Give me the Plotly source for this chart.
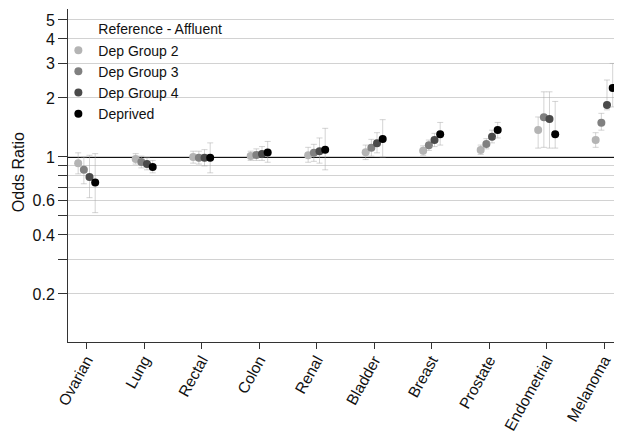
import plotly.graph_objects as go

categories = ["Ovarian", "Lung", "Rectal", "Colon", "Renal", "Bladder",
              "Breast", "Prostate", "Endometrial", "Melanoma"]

series_names = ["Dep Group 2", "Dep Group 3", "Dep Group 4", "Deprived"]

or_dep2 = [0.93, 0.977, 1.00, 1.013, 1.02, 1.057, 1.077, 1.086, 1.373, 1.221]
or_dep3 = [0.86, 0.943, 0.99, 1.025, 1.05, 1.116, 1.147, 1.165, 1.594, 1.496]
or_dep4 = [0.79, 0.921, 0.99, 1.037, 1.07, 1.175, 1.221, 1.270, 1.563, 1.840]
or_depr = [0.74, 0.889, 0.99, 1.055, 1.09, 1.235, 1.306, 1.373, 1.306, 2.250]

lo_dep2 = [0.82, 0.92, 0.93, 0.96, 0.94, 0.97, 1.02, 1.03, 1.11, 1.12]
hi_dep2 = [1.05, 1.04, 1.07, 1.07, 1.12, 1.15, 1.14, 1.15, 1.60, 1.33]
lo_dep3 = [0.73, 0.88, 0.92, 0.96, 0.95, 1.01, 1.08, 1.10, 1.12, 1.37]
hi_dep3 = [1.00, 1.01, 1.07, 1.10, 1.16, 1.23, 1.22, 1.24, 2.15, 1.67]
lo_dep4 = [0.62, 0.86, 0.90, 0.96, 0.93, 1.05, 1.13, 1.18, 1.11, 1.74]
hi_dep4 = [1.02, 0.99, 1.09, 1.13, 1.25, 1.33, 1.32, 1.37, 2.15, 2.47]
lo_depr = [0.52, 0.83, 0.83, 0.94, 0.86, 1.00, 1.15, 1.25, 1.11, 1.80]
hi_depr = [1.04, 0.96, 1.18, 1.20, 1.40, 1.55, 1.50, 1.50, 1.92, 3.00]

ytick_vals = [0.2, 0.3, 0.4, 0.5, 0.6, 0.7, 0.8, 0.9, 1, 2, 3, 4, 5]
ytick_text = ["0.2", "", "0.4", "", "0.6", "", "", "", "1", "2", "3", "4", "5"]

values = [or_dep2, or_dep3, or_dep4, or_depr]
lows = [lo_dep2, lo_dep3, lo_dep4, lo_depr]
highs = [hi_dep2, hi_dep3, hi_dep4, hi_depr]
colors = ["#b4b4b4", "#808080", "#4a4a4a", "#000000"]
offsets = [-0.148, -0.049, 0.049, 0.148]

FONT = "Arial, Liberation Sans, Helvetica, sans-serif"

fig = go.Figure()

# reference legend entry (no marker)
fig.add_trace(go.Scatter(
    x=[None], y=[None], mode="markers", name="Reference - Affluent",
    marker=dict(color="rgba(0,0,0,0)", size=8), legendgroup="r",
))

for name, vals, lo, hi, col, off in zip(series_names, values, lows, highs, colors, offsets):
    xs = [i + off for i in range(len(categories))]
    fig.add_trace(go.Scatter(
        x=xs, y=vals, mode="markers", name=name, legendgroup=name,
        marker=dict(color=col, size=8, line=dict(width=0)),
        error_y=dict(type="data", symmetric=False,
                     array=[h - v for h, v in zip(hi, vals)],
                     arrayminus=[v - l for v, l in zip(vals, lo)],
                     color="rgba(170,170,170,0.5)", thickness=1, width=3),
    ))

fig.add_shape(type="line", xref="paper", yref="y", x0=0, x1=1, y0=1, y1=1,
              line=dict(color="#111111", width=1.8), layer="below")

fig.add_annotation(text="Odds Ratio", xref="paper", yref="paper",
                   x=-0.0903, y=0.51, xanchor="center", yanchor="middle",
                   textangle=-90, showarrow=False,
                   font=dict(size=16, family=FONT, color="#111111"))

# page body adds an 8px offset, so the figure is sized/margined to compensate
fig.update_layout(
    width=614, height=424,
    margin=dict(l=60, r=0, t=1, b=90),
    paper_bgcolor="white", plot_bgcolor="white",
    font=dict(family=FONT, size=16, color="#111111"),
    showlegend=True,
    legend=dict(x=-0.0174, y=0.987, xanchor="left", yanchor="top",
                bgcolor="rgba(0,0,0,0)", font=dict(size=14, family=FONT),
                tracegroupgap=0),
    xaxis=dict(
        range=[-0.325, 9.31], tickmode="array",
        tickvals=list(range(len(categories))), ticktext=categories,
        tickangle=-61, ticks="outside", ticklen=6, tickcolor="#333",
        ticklabelstandoff=-4,
        showgrid=False, zeroline=False, showline=True, linecolor="#333",
        linewidth=1, tickfont=dict(size=15.5), automargin=False,
    ),
    yaxis=dict(
        type="log", range=[-0.944, 0.755], tickmode="array",
        tickvals=ytick_vals, ticktext=ytick_text,
        ticks="outside", ticklen=9, tickcolor="#333",
        showgrid=True, gridcolor="#d2d2d2", gridwidth=1,
        zeroline=False, showline=True, linecolor="#333", linewidth=1,
        tickfont=dict(size=16), automargin=False,
    ),
)

fig.write_html("out.html")
